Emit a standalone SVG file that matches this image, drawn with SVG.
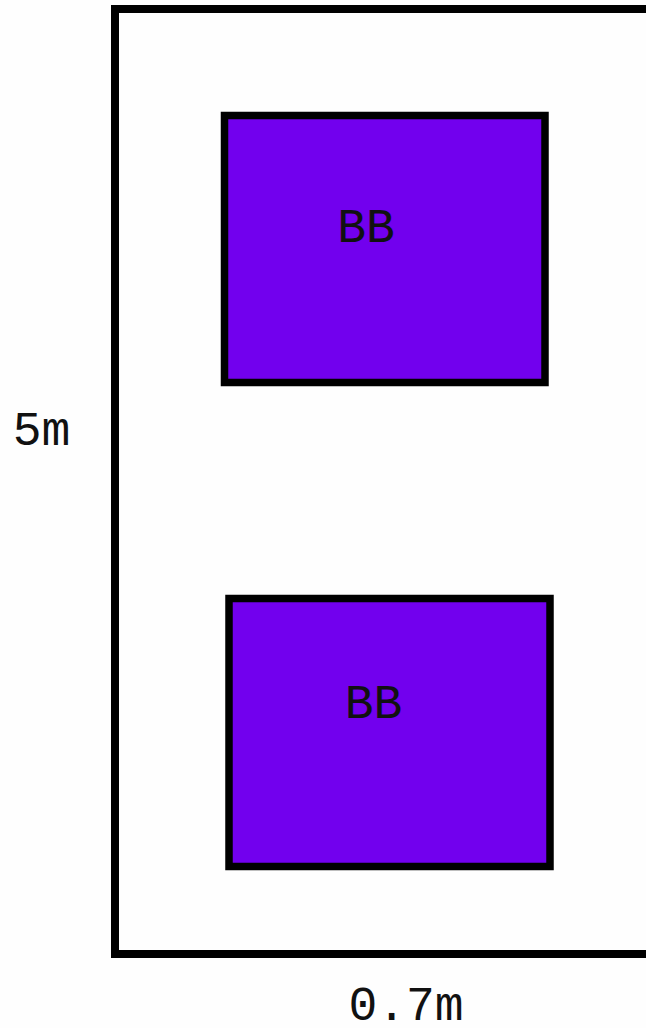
<svg xmlns="http://www.w3.org/2000/svg" width="646" height="1028" viewBox="0 0 646 1028">
<style>
.frame{fill:#fefefe;stroke:#000;stroke-width:8}
.box{fill:#7200ee;stroke:#000;stroke-width:7.5}
.lbl{font-family:"Liberation Mono","DejaVu Sans Mono",monospace;font-size:48px;fill:#111;text-anchor:middle}
</style>
<rect width="646" height="1028" fill="#fefefe"/>
<g id="frame">
<rect class="frame" x="115" y="9" width="600" height="945"/>
</g>
<g id="bb-top">
<rect class="box" x="224.5" y="115.5" width="320.5" height="267"/>
<text class="lbl" x="366" y="242">BB</text>
</g>
<g id="bb-bottom">
<rect class="box" x="229" y="598.5" width="321" height="268"/>
<text class="lbl" x="373.5" y="718">BB</text>
</g>
<g id="dim-height">
<text class="lbl" x="41.5" y="445">5m</text>
</g>
<g id="dim-width">
<text class="lbl" x="406" y="1020">0.7m</text>
</g>
<g id="connectors"></g>
</svg>
